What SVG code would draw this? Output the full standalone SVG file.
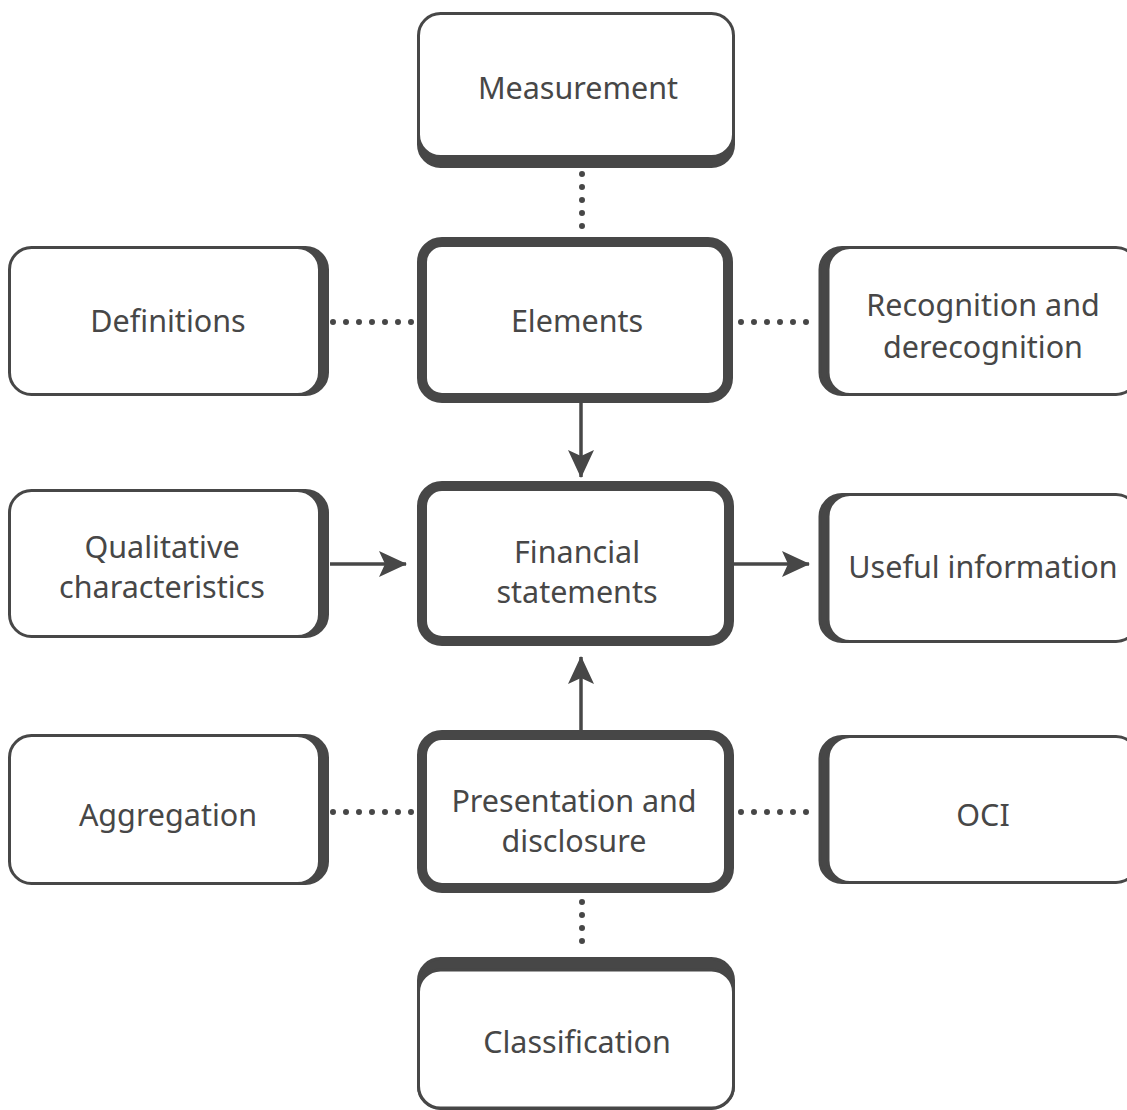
<svg xmlns="http://www.w3.org/2000/svg" width="1127" height="1110" viewBox="0 0 1127 1110">
<defs>
<style>
.bg{fill:#fff}
.box{fill:#fff;stroke:#474747;stroke-width:3}
.sh{fill:#474747;stroke:#474747;stroke-width:3}
.core{fill:#fff;stroke:#474747;stroke-width:10}
.t{font-family:"Noto Sans","Open Sans",sans-serif;font-size:30.5px;fill:#474747;text-anchor:middle}
.dot{fill:none;stroke:#474747;stroke-width:6;stroke-linecap:round;stroke-dasharray:0 13}
.arr{fill:none;stroke:#474747;stroke-width:3.5}
</style>
<marker id="ah" viewBox="0 0 28 26" refX="27" refY="13" markerWidth="28" markerHeight="26" markerUnits="userSpaceOnUse" orient="auto">
<path d="M0,0 L28,13 L0,26 L6,13 Z" fill="#474747"/>
</marker>
</defs>
<rect class="bg" x="0" y="0" width="1127" height="1110"/>

<g id="connectors">
<line class="dot" x1="582" y1="174" x2="582" y2="232"/>
<line class="dot" x1="333" y1="322" x2="413" y2="322"/>
<line class="dot" x1="741" y1="322" x2="815" y2="322"/>
<line class="arr" x1="581" y1="403" x2="581" y2="477" marker-end="url(#ah)"/>
<line class="arr" x1="330" y1="564" x2="406" y2="564" marker-end="url(#ah)"/>
<line class="arr" x1="734" y1="564" x2="809" y2="564" marker-end="url(#ah)"/>
<line class="arr" x1="581" y1="730" x2="581" y2="657" marker-end="url(#ah)"/>
<line class="dot" x1="333" y1="812" x2="413" y2="812"/>
<line class="dot" x1="741" y1="812" x2="815" y2="812"/>
<line class="dot" x1="582" y1="902" x2="582" y2="954"/>
</g>

<g id="measurement">
<rect class="sh" x="418.5" y="23.5" width="315" height="143" rx="22"/>
<rect class="box" x="418.5" y="13.5" width="315" height="143" rx="22"/>
<text class="t" x="578" y="99">Measurement</text>
</g>

<g id="definitions">
<rect class="sh" x="17.5" y="247.5" width="310" height="147" rx="22"/>
<rect class="box" x="9.5" y="247.5" width="310" height="147" rx="22"/>
<text class="t" x="168" y="332">Definitions</text>
</g>

<g id="elements">
<rect class="core" x="422" y="242" width="306" height="156" rx="20"/>
<text class="t" x="577" y="332">Elements</text>
</g>

<g id="recognition">
<rect class="sh" x="820" y="247.5" width="310" height="147" rx="22"/>
<rect class="box" x="828" y="247.5" width="310" height="147" rx="22"/>
<text class="t" x="983" y="316">Recognition and</text>
<text class="t" x="983" y="358">derecognition</text>
</g>

<g id="qualitative">
<rect class="sh" x="17.5" y="490.5" width="310" height="146" rx="22"/>
<rect class="box" x="9.5" y="490.5" width="310" height="146" rx="22"/>
<text class="t" x="162" y="558">Qualitative</text>
<text class="t" x="162" y="598">characteristics</text>
</g>

<g id="financial">
<rect class="core" x="422" y="486" width="307" height="155" rx="20"/>
<text class="t" x="577" y="563">Financial</text>
<text class="t" x="577" y="603">statements</text>
</g>

<g id="useful">
<rect class="sh" x="820" y="494.5" width="310" height="147" rx="22"/>
<rect class="box" x="828" y="494.5" width="310" height="147" rx="22"/>
<text class="t" x="983" y="578">Useful information</text>
</g>

<g id="aggregation">
<rect class="sh" x="17.5" y="735.5" width="310" height="148" rx="22"/>
<rect class="box" x="9.5" y="735.5" width="310" height="148" rx="22"/>
<text class="t" x="168" y="826">Aggregation</text>
</g>

<g id="presentation">
<rect class="core" x="422" y="735" width="307" height="153" rx="20"/>
<text class="t" x="574" y="812">Presentation and</text>
<text class="t" x="574" y="852">disclosure</text>
</g>

<g id="oci">
<rect class="sh" x="820" y="736.5" width="310" height="146" rx="22"/>
<rect class="box" x="828" y="736.5" width="310" height="146" rx="22"/>
<text class="t" x="983" y="826">OCI</text>
</g>

<g id="classification">
<rect class="sh" x="418.5" y="958.5" width="315" height="150" rx="22"/>
<rect class="box" x="418.5" y="970" width="315" height="138" rx="22"/>
<text class="t" x="577" y="1053">Classification</text>
</g>
</svg>
